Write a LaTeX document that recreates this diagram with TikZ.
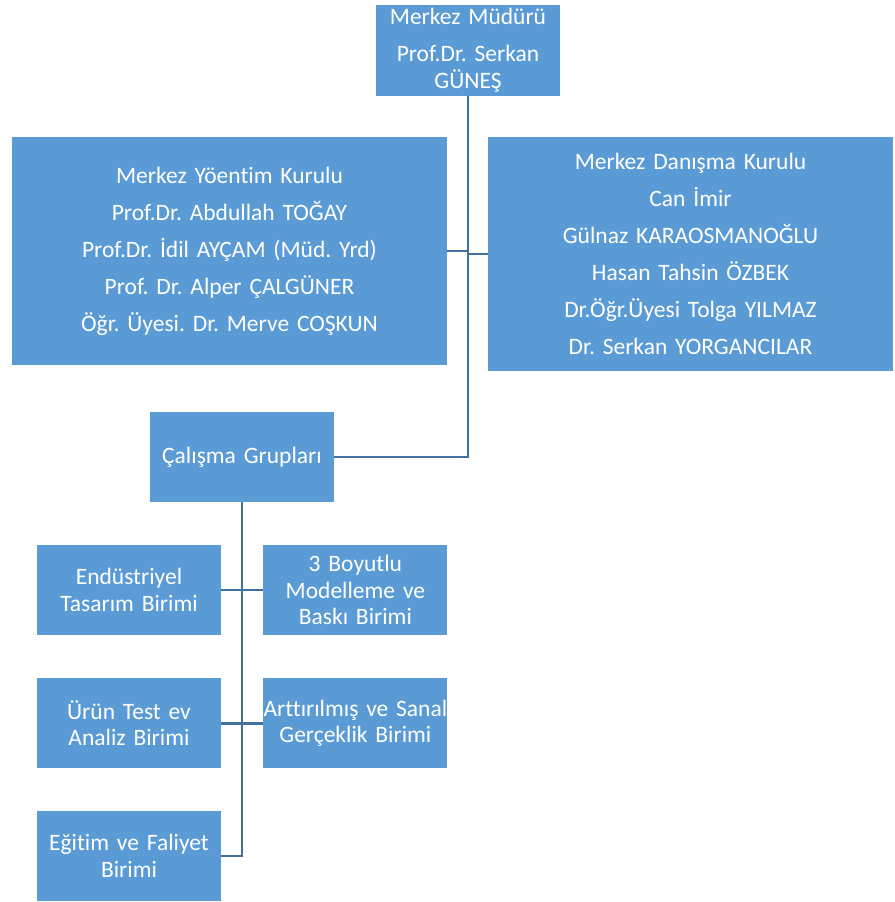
\documentclass[tikz,border=0pt]{standalone}
\usepackage{fontspec}
\setmainfont[Ligatures=NoCommon]{Carlito}
\frenchspacing
\usetikzlibrary{positioning}
\definecolor{boxblue}{HTML}{5B9BD5}
\definecolor{lineblue}{HTML}{41719C}
\tikzset{
  orgbox/.style={rectangle, fill=boxblue, text=white, inner sep=0pt,
                 align=center, font=\fontsize{23.5}{26.5}\selectfont},
  unitbox/.style={orgbox, minimum width=184pt, minimum height=90pt,
                  text width=184pt},
  link/.style={draw=lineblue, line width=2.5pt},
}

\begin{document}
\begin{tikzpicture}[x=1pt, y=-1pt, node distance=43pt and 42pt]
  \useasboundingbox (0,0) rectangle (894,902);

  %% Top: director
  \node[unitbox, minimum height=91pt] (mud) at (468,50.5)
        {Merkez Müdürü\\[10.5pt]Prof.Dr. Serkan\\GÜNEŞ};

  %% Boards
  \node[orgbox, minimum width=435pt, minimum height=228pt, text width=435pt]
        (myk) at (229.5,251)
        {Merkez Yöentim Kurulu\\[10.5pt]Prof.Dr. Abdullah TOĞAY\\[10.5pt]%
         Prof.Dr. İdil AYÇAM (Müd. Yrd)\\[10.5pt]Prof. Dr. Alper ÇALGÜNER\\[10.5pt]%
         Öğr. Üyesi. Dr. Merve COŞKUN};
  \node[orgbox, minimum width=405pt, minimum height=234pt, text width=405pt]
        (mdk) at (690.5,254)
        {Merkez Danışma Kurulu\\[10.5pt]Can İmir\\[10.5pt]%
         Gülnaz KARAOSMANOĞLU\\[10.5pt]Hasan Tahsin ÖZBEK\\[10.5pt]%
         Dr.Öğr.Üyesi Tolga YILMAZ\\[10.5pt]Dr. Serkan YORGANCILAR};

  %% Working groups
  \node[unitbox] (cg) at (242,457) {Çalışma Grupları};

  %% Units
  \node[unitbox] (etb) at (129,590) {Endüstriyel\\Tasarım Birimi};
  \node[unitbox, right=of etb] (bbb) {3 Boyutlu\\Modelleme ve\\Baskı Birimi};
  \node[unitbox, below=of etb] (utb) {Ürün Test ev\\Analiz Birimi};
  \node[unitbox, right=of utb] (asb) {Arttırılmış ve Sanal\\Gerçeklik Birimi};
  \node[unitbox, below=42pt of utb] (efb) {Eğitim ve Faliyet\\Birimi};

  %% Connectors
  \draw[link] (mud.south) -- (mud.south |- cg.east) -- (cg.east);
  \draw[link] (myk.east) -- (myk.east -| mud.south);
  \draw[link] (mdk.west) -- (mdk.west -| mud.south);
  \draw[link] (cg.south) -- (cg.south |- efb.east) -- (efb.east);
  \draw[link] (etb.east) -- (bbb.west);
  \draw[link] (utb.east) -- (asb.west);

\end{tikzpicture}
\end{document}
